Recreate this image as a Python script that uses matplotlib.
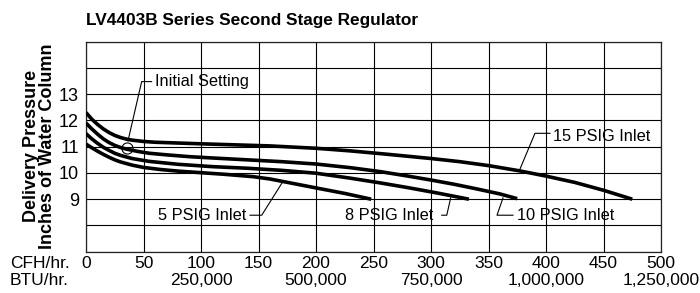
import matplotlib
matplotlib.use("Agg")
import matplotlib.pyplot as plt

# ====== DATA ======
cfh_ticks = [0, 50, 100, 150, 200, 250, 300, 350, 400, 450, 500]
btu_labels = ["", "", "250,000", "", "500,000", "", "750,000", "", "1,000,000", "", "1,250,000"]
y_ticks = [7, 8, 9, 10, 11, 12, 13, 14, 15]
y_labels = ["", "", "9", "10", "11", "12", "13", "", ""]

# delivery pressure curves (CFH/hr. vs in. w.c.)
psig15_x = [0, 5, 10, 15, 20, 25, 30, 35, 40, 50, 60, 80, 100, 130, 160, 200,
            230, 260, 300, 325, 350, 377, 400, 425, 450, 475]
psig15_y = [12.3, 12.05, 11.85, 11.68, 11.54, 11.43, 11.35, 11.29, 11.25, 11.2, 11.17,
            11.14, 11.11, 11.07, 11.03, 10.94, 10.84, 10.72, 10.55, 10.43, 10.28,
            10.08, 9.88, 9.64, 9.34, 9.0]

psig10_x = [0, 5, 10, 15, 20, 25, 30, 35, 45, 55, 70, 90, 110, 140, 170, 200,
            230, 256, 280, 300, 320, 340, 360, 375]
psig10_y = [11.9, 11.68, 11.48, 11.3, 11.16, 11.05, 10.97, 10.91, 10.82, 10.75, 10.69,
            10.62, 10.57, 10.5, 10.43, 10.34, 10.2, 10.05, 9.88, 9.73, 9.57, 9.39,
            9.2, 9.02]

psig8_x = [0, 5, 10, 15, 20, 25, 30, 40, 55, 80, 110, 140, 170, 200, 230, 256,
           280, 305, 333]
psig8_y = [11.5, 11.3, 11.13, 10.98, 10.86, 10.75, 10.67, 10.55, 10.44, 10.33, 10.24,
           10.18, 10.1, 9.99, 9.8, 9.62, 9.44, 9.24, 9.0]

psig5_x = [0, 5, 10, 15, 20, 25, 30, 40, 50, 65, 80, 100, 120, 145, 160, 180,
           200, 225, 248]
psig5_y = [11.1, 10.96, 10.83, 10.71, 10.6, 10.5, 10.42, 10.3, 10.21, 10.13, 10.07,
           10.01, 9.95, 9.86, 9.77, 9.6, 9.43, 9.22, 9.0]

initial_setting = (35.7, 10.96)

# ====== FONTS ======
sans = ["Liberation Sans", "DejaVu Sans"]

# ====== FIGURE ======
fig = plt.figure(figsize=(7, 2.93), dpi=100)
ax = fig.add_axes([86 / 700, 1 - 251.7 / 293, 575 / 700, 210 / 293])

for xs, ys in [(psig15_x, psig15_y), (psig10_x, psig10_y),
               (psig8_x, psig8_y), (psig5_x, psig5_y)]:
    ax.plot(xs, ys, color="black", lw=2.6, solid_capstyle="butt",
            solid_joinstyle="round", zorder=3)

ax.set_xlim(0, 500)
ax.set_ylim(7, 15)
ax.set_xticks(cfh_ticks)
ax.set_xticklabels([f"{c}\n{b}" for c, b in zip(cfh_ticks, btu_labels)],
                   family=sans, fontsize=12.5, linespacing=1.15)
ax.set_yticks(y_ticks)
ax.set_yticklabels(y_labels, family=sans, fontsize=13)
ax.tick_params(length=0, pad=3)
ax.tick_params(axis="y", pad=5)
ax.grid(True, color="black", lw=0.8)
for s in ax.spines.values():
    s.set_color("#222222")
    s.set_linewidth(0.9)

# ====== ANNOTATIONS ======
lead = dict(color="black", lw=0.8, zorder=4)
fs = 11.8

ax.plot(*initial_setting, marker="o", ms=8, mfc="none", mec="black", mew=0.8, zorder=4)
ax.plot([36.5, 48.4, 57], [11.22, 13.48, 13.48], **lead)
ax.text(60, 13.48, "Initial Setting", family=sans, fontsize=fs, va="center", ha="left")

ax.plot([142.6, 152.8, 171.6], [8.39, 8.39, 9.7], **lead)
ax.text(139.7, 8.39, "5 PSIG Inlet", family=sans, fontsize=fs, va="center", ha="right")

ax.plot([309.3, 313.7, 317.1], [8.39, 8.39, 9.05], **lead)
ax.text(301.7, 8.39, "8 PSIG Inlet", family=sans, fontsize=fs, va="center", ha="right")

ax.plot([371.3, 357.4, 362.6], [8.39, 8.39, 9.05], **lead)
ax.text(374.5, 8.39, "10 PSIG Inlet", family=sans, fontsize=fs, va="center", ha="left")

ax.plot([403.5, 390.4, 377.4], [11.51, 11.51, 10.15], **lead)
ax.text(406, 11.4, "15 PSIG Inlet", family=sans, fontsize=fs, va="center", ha="left")

# ====== TEXT ======
fig.text(86 / 700, 1 - 20 / 293, "LV4403B Series Second Stage Regulator",
         family=sans, fontweight="bold", fontsize=12.4, va="center", ha="left")
fig.text(32 / 700, 1 - 146 / 293, "Delivery Pressure", family=sans, fontweight="bold",
         fontsize=13, rotation=90, va="center", ha="center")
fig.text(48 / 700, 1 - 146 / 293, "Inches of Water Column", family=sans, fontweight="bold",
         fontsize=13, rotation=90, va="center", ha="center")
fig.text(10 / 700, 1 - 256 / 293, "CFH/hr.\nBTU/hr.", family=sans, fontsize=12.5,
         va="top", ha="left", linespacing=1.15)

fig.savefig("out.png", dpi=100)
